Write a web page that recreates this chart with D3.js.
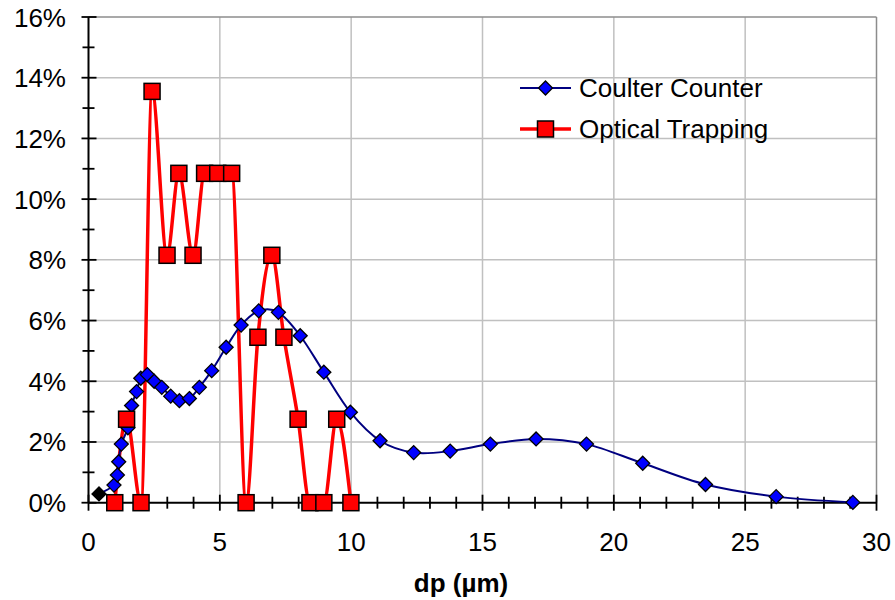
<!DOCTYPE html>
<html>
<head>
<meta charset="utf-8">
<script src="https://cdn.jsdelivr.net/npm/d3@7"></script>
<style>
  html, body { margin: 0; padding: 0; background: #fff; }
  svg { display: block; }
  text { font-family: Arial, "Liberation Sans", sans-serif; }
</style>
</head>
<body>
<svg id="chart" width="895" height="600"></svg>
<script>
// ---- data ----
const ccX = [0.40, 0.97, 1.10, 1.15, 1.25, 1.50, 1.64, 1.83, 1.99, 2.24, 2.50, 2.79, 3.13, 3.46, 3.84, 4.22, 4.69, 5.24, 5.81, 6.48, 7.23, 8.06, 8.96, 9.97, 11.10, 12.38, 13.77, 15.30, 17.04, 18.96, 21.10, 23.49, 26.18, 29.10];
const ccY = [0.29, 0.58, 0.91, 1.35, 1.93, 2.47, 3.20, 3.66, 4.10, 4.22, 4.00, 3.80, 3.51, 3.36, 3.43, 3.80, 4.35, 5.12, 5.85, 6.32, 6.27, 5.50, 4.30, 2.98, 2.04, 1.65, 1.70, 1.93, 2.10, 1.93, 1.30, 0.60, 0.20, 0.01];
const otX = [1.00, 1.45, 2.00, 2.42, 2.99, 3.44, 3.98, 4.42, 4.92, 5.45, 6.00, 6.45, 6.98, 7.44, 7.98, 8.43, 8.96, 9.45, 9.99];
const otY = [0, 2.75, 0, 13.55, 8.15, 10.85, 8.15, 10.85, 10.85, 10.85, 0, 5.45, 8.15, 5.45, 2.75, 0, 0, 2.75, 0];
const xTicks = [0, 5, 10, 15, 20, 25, 30];
const yTicks = [0, 2, 4, 6, 8, 10, 12, 14, 16];
const seriesNames = ["Coulter Counter", "Optical Trapping"];
const xTitle = "dp (\u00B5m)";

// ---- layout ----
const svg = d3.select("#chart");
const L = 88.5, R = 876.5, B = 502.7, T = 17;
const x = d3.scaleLinear().domain([0, 30]).range([L, R]);
const y = d3.scaleLinear().domain([0, 16]).range([B, T]);

svg.append("rect").attr("width", 895).attr("height", 600).attr("fill", "#fff");

// grid
const grid = svg.append("g");
grid.selectAll("line.gy").data(yTicks.filter(d => d > 0 && d < 16)).enter().append("line")
  .attr("x1", L).attr("x2", R).attr("y1", d => y(d)).attr("y2", d => y(d))
  .attr("stroke", "#c0c0c0").attr("stroke-width", 1.5);
grid.selectAll("line.gx").data(xTicks.filter(d => d > 0 && d < 30)).enter().append("line")
  .attr("y1", B).attr("y2", T).attr("x1", d => x(d)).attr("x2", d => x(d))
  .attr("stroke", "#c0c0c0").attr("stroke-width", 1.5);
// plot border top / right
grid.append("line").attr("x1", L).attr("x2", R).attr("y1", y(16)).attr("y2", y(16)).attr("stroke", "#8c8c8c").attr("stroke-width", 1.5);
grid.append("line").attr("x1", x(30)).attr("x2", x(30)).attr("y1", T).attr("y2", B).attr("stroke", "#8c8c8c").attr("stroke-width", 1.5);

// axes
const ax = svg.append("g").attr("stroke", "#000");
ax.append("line").attr("x1", L).attr("x2", L).attr("y1", T).attr("y2", B).attr("stroke-width", 2);
ax.append("line").attr("x1", L).attr("x2", R).attr("y1", B).attr("y2", B).attr("stroke-width", 2);
// y ticks (major & minor every 1%)
ax.selectAll("line.yt").data(d3.range(0, 17, 1)).enter().append("line")
  .attr("x1", d => d % 2 === 0 ? L - 7 : L - 6).attr("x2", d => d % 2 === 0 ? L + 8 : L + 6)
  .attr("y1", d => y(d)).attr("y2", d => y(d)).attr("stroke-width", 1.8);
// x ticks (major every 5, minor every 1)
ax.selectAll("line.xt").data(d3.range(0, 31, 1)).enter().append("line")
  .attr("x1", d => x(d)).attr("x2", d => x(d))
  .attr("y1", d => d % 5 === 0 ? B - 8 : B - 6).attr("y2", d => d % 5 === 0 ? B + 8 : B + 6)
  .attr("stroke-width", 1.8);

// tick labels
svg.append("g").selectAll("text").data(yTicks).enter().append("text")
  .attr("x", 66).attr("y", d => y(d) + 9.5).attr("text-anchor", "end")
  .attr("font-size", 26).attr("fill", "#000").text(d => d + "%");
svg.append("g").selectAll("text").data(xTicks).enter().append("text")
  .attr("x", d => x(d)).attr("y", 551).attr("text-anchor", "middle")
  .attr("font-size", 26).attr("fill", "#000").text(d => d);
svg.append("text").attr("x", 461).attr("y", 592).attr("text-anchor", "middle")
  .attr("font-size", 26).attr("font-weight", "bold").attr("fill", "#000").text(xTitle);

// series
const cc = ccX.map((v, i) => [v, ccY[i]]);
const ot = otX.map((v, i) => [v, otY[i]]);
const ccLine = d3.line().x(d => x(d[0])).y(d => y(d[1])).curve(d3.curveCatmullRom.alpha(0));
const otLine = d3.line().x(d => x(d[0])).y(d => y(d[1])).curve(d3.curveMonotoneX);

svg.append("path").attr("d", otLine(ot)).attr("fill", "none").attr("stroke", "#ff0000").attr("stroke-width", 3.5);
svg.append("path").attr("d", ccLine(cc)).attr("fill", "none").attr("stroke", "#000080").attr("stroke-width", 2);

const diamond = s => `M0,${-s}L${s},0L0,${s}L${-s},0Z`;
svg.append("g").selectAll("path").data(cc).enter().append("path")
  .attr("transform", d => `translate(${x(d[0])},${y(d[1])})`)
  .attr("d", diamond(7))
  .attr("fill", (d, i) => i === 0 ? "#000" : "#0000ff").attr("stroke", "#000").attr("stroke-width", 1.3);

svg.append("g").selectAll("rect").data(ot).enter().append("rect")
  .attr("x", d => x(d[0]) - 8).attr("y", d => y(d[1]) - 8).attr("width", 16).attr("height", 16)
  .attr("fill", "#ff0000").attr("stroke", "#000").attr("stroke-width", 1.5);

// legend
const lg = svg.append("g");
const ly = [88, 129];
lg.append("line").attr("x1", 520).attr("x2", 571).attr("y1", ly[0]).attr("y2", ly[0]).attr("stroke", "#000080").attr("stroke-width", 2);
lg.append("path").attr("transform", `translate(545.5,${ly[0]})`).attr("d", diamond(7)).attr("fill", "#0000ff").attr("stroke", "#000").attr("stroke-width", 1.3);
lg.append("line").attr("x1", 520).attr("x2", 571).attr("y1", ly[1]).attr("y2", ly[1]).attr("stroke", "#ff0000").attr("stroke-width", 3.5);
lg.append("rect").attr("x", 545.5 - 8).attr("y", ly[1] - 8).attr("width", 16).attr("height", 16).attr("fill", "#ff0000").attr("stroke", "#000").attr("stroke-width", 1.5);
lg.selectAll("text").data(seriesNames).enter().append("text")
  .attr("x", 579).attr("y", (d, i) => ly[i] + 8.5).attr("font-size", 26).attr("fill", "#000").text(d => d);
</script>
</body>
</html>
